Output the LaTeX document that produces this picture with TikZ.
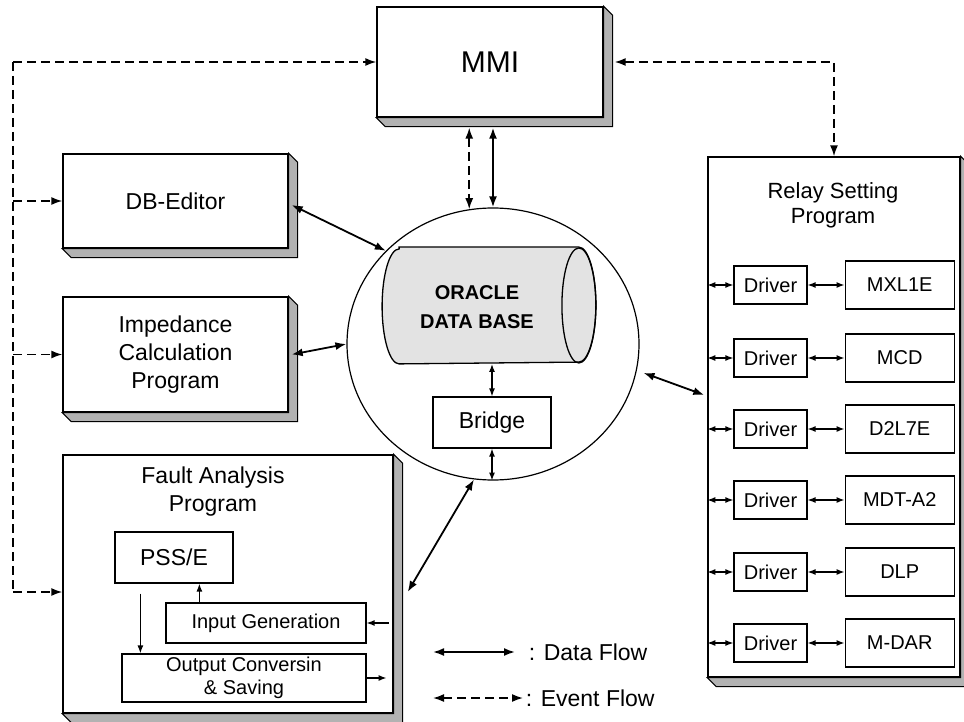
\documentclass[tikz,border=0pt]{standalone}
\usepackage{fontspec}
\setmainfont{Liberation Sans}
\usetikzlibrary{shapes.geometric,arrows.meta,calc,positioning}

\newcommand{\fsbox}{\fontsize{23}{28}\selectfont}
\newcommand{\fsbig}{\fontsize{30}{34}\selectfont}
\newcommand{\fsmid}{\fontsize{22}{25}\selectfont}
\newcommand{\fssmall}{\fontsize{20}{23}\selectfont}
\newcommand{\fsdb}{\fontsize{20}{29}\selectfont\bfseries}
\newcommand{\boxshadow}[1]{%
  \filldraw[shadow3d] (#1.north east) -- ++(9,9) |- ($(#1.south west)+(9,9)$) -- (#1.south west) -- (#1.south east) -- cycle;}

\begin{document}
\begin{tikzpicture}[x=1pt, y=-1pt, >={Latex[length=11pt,width=8pt]}, line width=1.8pt,
  panel/.style={draw, line width=1.4pt, fill=white, inner sep=0pt, align=center, font=\fsbox},
  sub/.style={draw, line width=1.2pt, fill=white, inner sep=0pt, align=center, font=\fssmall},
  shadow3d/.style={draw=black, line width=1pt, fill=gray!60},
  data/.style={<->},
  event/.style={->, line width=1.6pt, dash pattern=on 9pt off 5pt},
  flow/.style={->, >={Latex[length=8pt,width=6pt]}, line width=1.3pt},
  small/.style={<->, >={Latex[length=8pt,width=6pt]}, line width=1.3pt}]
    \useasboundingbox (0,0) rectangle (964,722);
    \node[panel, minimum width=226, minimum height=110, font=\fsbig] (mmi) at (490,62) {MMI};
    \node[panel, minimum width=225, minimum height=94] (dbedit) at (175.5,201) {DB-Editor};
    \node[panel, minimum width=225, minimum height=115] (imped) at (175.5,354.5) {Impedance\\Calculation\\Program};
    \node[panel, minimum width=330, minimum height=258] (fault) at (228,584) {};
    \node[panel, minimum width=252, minimum height=520] (relay) at (834,417) {};
    \boxshadow{mmi}
    \boxshadow{dbedit}
    \boxshadow{imped}
    \boxshadow{fault}
    \boxshadow{relay}
    %Fault analysis
    \node[align=center, font=\fsbox] (faulttitle) at (213,492) {Fault Analysis\\Program};
    \node[sub, minimum width=118, minimum height=51, font=\fsbox] (pss) at (174,557.5) {PSS/E};
    \node[sub, minimum width=200, minimum height=40] (input) at (266,623) {Input Generation};
    \node[sub, minimum width=244, minimum height=48] (output) at (244,678) {Output Conversin\\\& Saving};
    \draw[flow] ($(pss.south west)+(26,10)$) -- ($(output.north west)+(19,0)$);
    \draw[flow] ($(input.north west)+(34,0)$) -- ($(pss.south west)+(85,0)$);
    \draw[flow] ($(input.east)+(22,0)$) -- (input.east);
    \draw[flow] (output.east) -- ++(20,0);
    %Data base
    \node[draw, ellipse, line width=1.2pt, minimum width=292, minimum height=272, inner sep=0pt] (dbcircle) at (493,344) {};
    \node[minimum width=212, minimum height=115, inner sep=0pt] (oracle) at (489,305.5) {};
    \filldraw[line width=1.3pt, fill=gray!22] ($(oracle.north west)+(17,0)$) -- ($(oracle.north east)+(-17,0)$)
        arc[start angle=-90, end angle=90, x radius=17, y radius=57.5] -- ($(oracle.south west)+(17,0)$)
        arc[start angle=90, end angle=270, x radius=17, y radius=57.5] -- cycle;
    \draw[line width=1.3pt] ($(oracle.east)+(-17,0)$) ellipse[x radius=17, y radius=57.5];
    \node[align=center, font=\fsdb] (oracletxt) at (477,307) {ORACLE\\DATA BASE};
    \node[sub, minimum width=118, minimum height=51, font=\fsbox] (bridge) at (492,422.5) {Bridge};
    \draw[small] (bridge.north |- oracle.south) -- (bridge.north);
    \draw[small] (bridge.south) -- (bridge.south |- dbcircle.south);
    %Relay setting
    \node[align=center, font=\fsmid] (relaytitle) at (833,205) {Relay Setting\\Program};
    \foreach \dev/\ypos [count=\i] in {MXL1E/285,MCD/358,D2L7E/429,MDT-A2/500,DLP/572,M-DAR/643}{
        \node[sub, minimum width=73, minimum height=38] (drv\i) at (770.5,\ypos) {Driver};
        \node[sub, minimum width=109, minimum height=48, right=37pt of drv\i] (dev\i) {\dev};
        \draw[small] (relay.west |- drv\i.west) -- (drv\i.west);
        \draw[small] (drv\i.east) -- (dev\i.west);
    }
    %Data flow
    \draw[data] ($(dbcircle.north |- mmi.south)+(0,10)$) -- (dbcircle.north);
    \draw[data] ($(dbedit.east)+(3,4)$) -- (dbcircle.139);
    \draw[data] ($(imped.east)+(3,0)$) -- (dbcircle.west);
    \draw[data] ($(fault.east)+(14,8)$) -- (dbcircle.262);
    \draw[data] ($(dbcircle.349)+(7,1)$) -- ($(relay.west)+(-3,-22)$);
    %Event flow
    \coordinate (evtop) at (13,62);
    \coordinate (evbot) at (13,592);
    \draw[event, -] (evtop) -- (evbot);
    \draw[event] (evtop) -- (mmi.west);
    \draw[event] (evtop |- dbedit.west) -- (dbedit.west);
    \draw[event] (evtop |- imped.west) -- (imped.west);
    \draw[event] (evbot) -- (evbot -| fault.west);
    \draw[event, <->] ($(dbcircle.100 |- mmi.south)+(0,10)$) -- (dbcircle.100);
    \draw[event, <->] ($(mmi.east)+(11,0)$) -| (relay.north);
    %Legend
    \node[anchor=west, inner sep=0pt, font=\fsbox] (datatxt) at (528,652) {: Data Flow};
    \node[anchor=west, inner sep=0pt, font=\fsbox] (eventtxt) at (525,698) {: Event Flow};
    \coordinate (legdata) at (433,652);
    \coordinate (legevent) at (433,698);
    \draw[data] (legdata) -- ($(datatxt.west)+(-13,0)$);
    \draw[event, <->] (legevent) -- ($(eventtxt.west)+(-2,0)$);
\end{tikzpicture}
\end{document}
